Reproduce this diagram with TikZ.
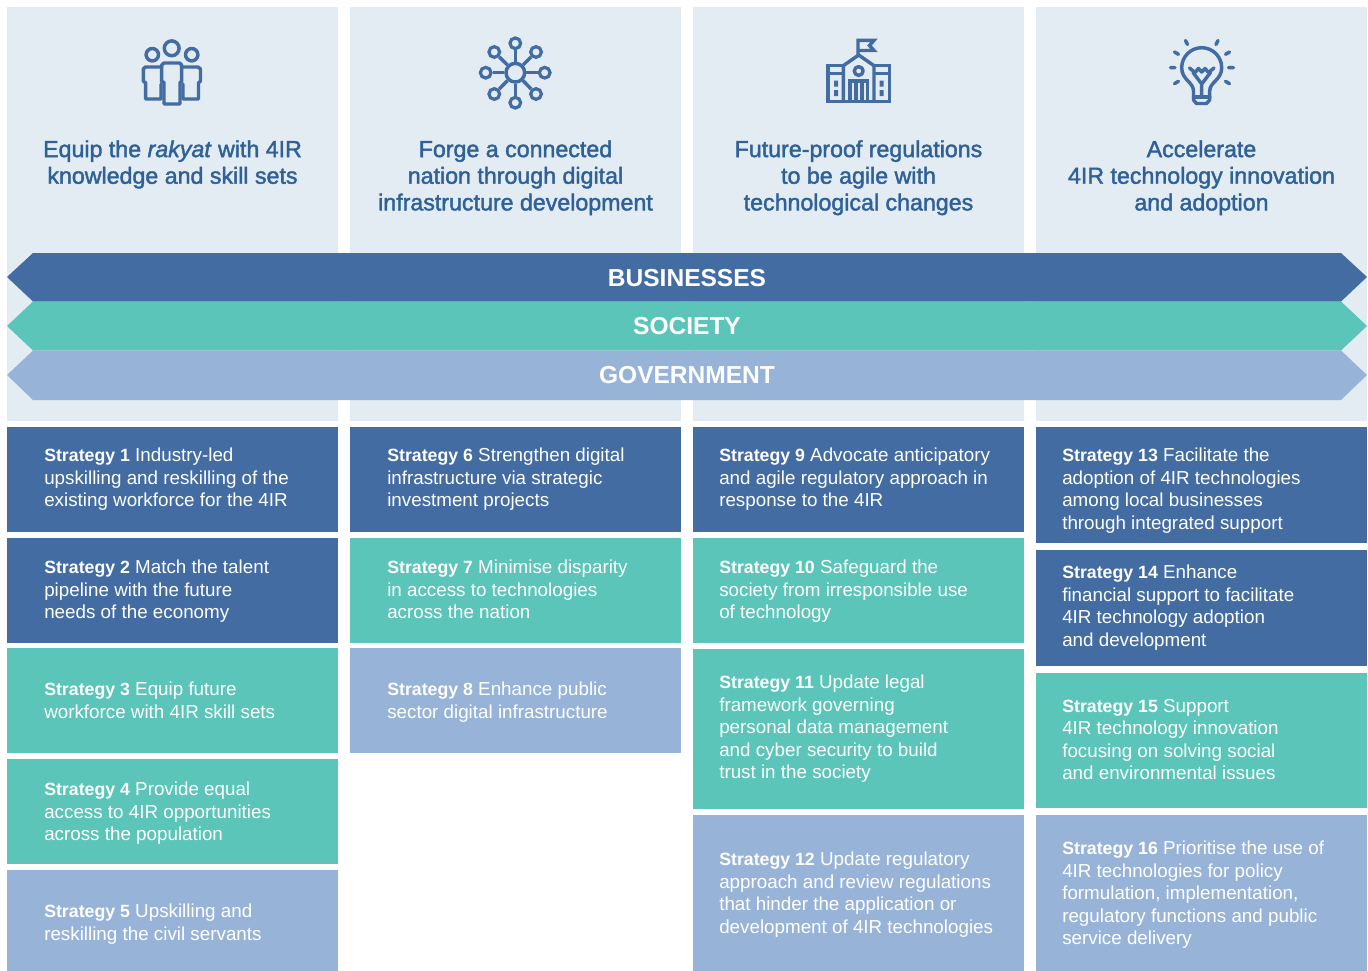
\documentclass[tikz,border=0pt]{standalone}
\usepackage{fontspec}
\setmainfont{Liberation Sans}
\newfontfamily\medfont[FakeBold=1.8]{Liberation Sans}
\definecolor{darkband}{HTML}{436CA3}
\definecolor{tealband}{HTML}{5BC5BA}
\definecolor{paleband}{HTML}{97B4D8}
\definecolor{panelbg}{HTML}{E3ECF3}
\definecolor{titleblue}{HTML}{2F6198}
\newcommand{\strat}[1]{{\bfseries\fontsize{13.3}{16.8}\selectfont Strategy #1}}
\tikzset{
  panel/.style={fill=panelbg, draw=none},
  paneltitle/.style={anchor=north, align=center, text=titleblue, inner sep=0pt, font=\medfont\fontsize{17.4}{20}\selectfont},
  bandlabel/.style={text=white, inner sep=0pt, font=\bfseries\fontsize{18.4}{22}\selectfont},
  stratbox/.style={anchor=north west, minimum width=248.25pt, inner sep=0pt},
  strattext/.style={anchor=north west, align=left, inner sep=0pt, text=white, font=\fontsize{14.1}{16.8}\selectfont},
  icon/.style={draw=darkband, line width=2.6pt, line join=round, line cap=round},
  sat/.style={circle, draw=darkband, line width=2.4pt, inner sep=0pt, minimum size=8pt},
}
\begin{document}
\begin{tikzpicture}[x=.75pt,y=-.75pt]
\useasboundingbox (0,0) rectangle (1368,971);
\fill[white] (0,0) rectangle (1368,971);
% top panels
\fill[panel] (7,7) rectangle (338,421);
\fill[panel] (350,7) rectangle (681,421);
\fill[panel] (693,7) rectangle (1024,421);
\fill[panel] (1036,7) rectangle (1367,421);
% people icon
\draw[icon] (171.7,48.3) circle (7.4);
\draw[icon] (152.3,54.7) circle (6.2);
\draw[icon] (191.7,54.7) circle (6.2);
\draw[icon] (161.7,82) -- (161.7,65) -- (164,63) -- (179.5,63) -- (181.7,65) -- (181.7,82)
  (164,82) -- (164,104) -- (180,104) -- (180,82);
\draw[icon] (161.7,67) -- (145.5,67) -- (143.3,69) -- (143.3,81) -- (145.7,83) -- (145.7,99) -- (161,99) (161,84) -- (161,99);
\draw[icon] (181.7,67) -- (198,67) -- (200.5,69) -- (200.5,81) -- (198.5,83) -- (198.5,99) -- (183,99) (183,84) -- (183,99);
% hub icon
\node[circle, draw=darkband, line width=2.6pt, inner sep=0pt, minimum size=14pt] (hub) at (515.3,72.7){};
\node[sat] (sat0) at (544.7,72.7){};
\node[sat] (sat1) at (536,52){};
\node[sat] (sat2) at (515.3,43.3){};
\node[sat] (sat3) at (494.3,52){};
\node[sat] (sat4) at (485.7,72.7){};
\node[sat] (sat5) at (494.3,94){};
\node[sat] (sat6) at (515.3,102.7){};
\node[sat] (sat7) at (536,94){};
\draw[icon, line cap=butt](hub) -- (sat0);
\draw[icon, line cap=butt](hub) -- (sat1);
\draw[icon, line cap=butt](hub) -- (sat2);
\draw[icon, line cap=butt](hub) -- (sat3);
\draw[icon, line cap=butt](hub) -- (sat4);
\draw[icon, line cap=butt](hub) -- (sat5);
\draw[icon, line cap=butt](hub) -- (sat6);
\draw[icon, line cap=butt](hub) -- (sat7);
% school icon
\draw[icon, line join=miter, line cap=butt] (843.3,65.7) -- (828,65.7) -- (828,101.5) -- (889.5,101.5) -- (889.5,65.7) -- (874,65.7);
\draw[icon, line join=miter, line cap=butt] (843.3,101.5) -- (843.3,65.7) -- (858.7,55) -- (874,65.7) -- (874,101.5);
\draw[icon, line cap=butt] (828,73.3) -- (843.3,73.3) (874,73.3) -- (889.5,73.3);
\draw[icon] (858.7,71) circle (4.4);
\draw[icon, line join=miter, line cap=butt] (850,101.5) -- (850,81) -- (867.5,81) -- (867.5,101.5) (856,81) -- (856,101.5) (861.8,81) -- (861.8,101.5);
\fill[darkband] (834,80.5) rectangle (838,86.5) (834,90) rectangle (838,96) (879.5,80.5) rectangle (883.5,86.5) (879.5,90) rectangle (883.5,96);
\draw[icon, line join=miter, line cap=butt] (858,55) -- (858,40.3) -- (874,40.3) -- (869.5,45.5) -- (874,50.5) -- (858,50.5);
% bulb icon
\draw[icon] (1193.5,91) .. controls (1193.5,82) and (1181.7,80) .. (1181.7,67.7) arc[start angle=180, end angle=360, radius=20] .. controls (1221.7,80) and (1209.7,82) .. (1209.7,91) -- (1209.7,100) -- (1206.5,103.5) -- (1196.5,103.5) -- (1193.5,100) -- cycle;
\draw[icon] (1193.5,97) -- (1209.7,97);
\draw[icon] (1189.5,68) -- (1195,72.5) -- (1198.5,68.5) -- (1201.7,72) -- (1205,68.5) -- (1208.5,72.5) -- (1214,68);
\draw[icon] (1193,72.5) -- (1201.7,84) -- (1210.5,72.5) (1201.7,84) -- (1201.7,97);
\draw[icon] (1185.5,40.5) -- (1187.5,44.5) (1218,40.5) -- (1216,44.5) (1174.5,52) -- (1178.5,54.3) (1229.5,52) -- (1225.5,54.3)
  (1170.5,67.7) -- (1175,67.7) (1228.5,67.7) -- (1233.5,67.7) (1174.5,83.7) -- (1178.5,81.3) (1229.5,83.7) -- (1225.5,81.3);
% panel titles
\node[paneltitle] (title1) at (172.5,140){Equip the \textit{rakyat} with 4IR\\knowledge and skill sets};
\node[paneltitle] (title2) at (515.5,140){Forge a connected\\nation through digital\\infrastructure development};
\node[paneltitle] (title3) at (858.5,140){Future-proof regulations\\to be agile with\\technological changes};
\node[paneltitle] (title4) at (1201.5,140){Accelerate\\4IR technology innovation\\and adoption};
% bands
\fill[darkband] (7,277) -- (33,253) -- (1341,253) -- (1367,277) -- (1341,301.5) -- (33,301.5) -- cycle;
\fill[tealband] (7,326) -- (33,301.5) -- (1341,301.5) -- (1367,326) -- (1341,350.5) -- (33,350.5) -- cycle;
\fill[paleband] (7,375) -- (33,350.5) -- (1341,350.5) -- (1367,375) -- (1341,400) -- (33,400) -- cycle;
\node[bandlabel] (business) at (687,278){BUSINESSES};
\node[bandlabel] (society) at (687,326){SOCIETY};
\node[bandlabel] (gov) at (687,375){GOVERNMENT};
% first column
\node[stratbox, fill=darkband, minimum height=78.75pt] (b1) at (7,427){};
\node[stratbox, fill=darkband, minimum height=78.75pt] (b2) at (7,538){};
\node[stratbox, fill=tealband, minimum height=78.75pt] (b3) at (7,648){};
\node[stratbox, fill=tealband, minimum height=78.75pt] (b4) at (7,759){};
\node[stratbox, fill=paleband, minimum height=75.75pt] (b5) at (7,870){};
\node[strattext] (s1) at (44,448){\strat{1} Industry-led\\upskilling and reskilling of the\\existing workforce for the 4IR};
\node[strattext] (s2) at (44,560){\strat{2} Match the talent\\pipeline with the future\\needs of the economy};
\node[strattext] (s3) at (44,682){\strat{3} Equip future\\workforce with 4IR skill sets};
\node[strattext] (s4) at (44,782){\strat{4} Provide equal\\access to 4IR opportunities\\across the population};
\node[strattext] (s5) at (44,904){\strat{5} Upskilling and\\reskilling the civil servants};
% second column
\node[stratbox, fill=darkband, minimum height=78.75pt] (b6) at (350,427){};
\node[stratbox, fill=tealband, minimum height=78.75pt] (b7) at (350,538){};
\node[stratbox, fill=paleband, minimum height=78.75pt] (b8) at (350,648){};
\node[strattext] (s6) at (387,448){\strat{6} Strengthen digital\\infrastructure via strategic\\investment projects};
\node[strattext] (s7) at (387,560){\strat{7} Minimise disparity\\in access to technologies\\across the nation};
\node[strattext] (s8) at (387,682){\strat{8} Enhance public\\sector digital infrastructure};
% third column
\node[stratbox, fill=darkband, minimum height=78.75pt] (b9) at (693,427){};
\node[stratbox, fill=tealband, minimum height=78.75pt] (b10) at (693,538){};
\node[stratbox, fill=tealband, minimum height=120pt] (b11) at (693,649){};
\node[stratbox, fill=paleband, minimum height=117pt] (b12) at (693,815){};
\node[strattext] (s9) at (719,448){\strat{9} Advocate anticipatory\\and agile regulatory approach in\\response to the 4IR};
\node[strattext] (s10) at (719,560){\strat{10} Safeguard the\\society from irresponsible use\\of technology};
\node[strattext] (s11) at (719,675){\strat{11} Update legal\\framework governing\\personal data management\\and cyber security to build\\trust in the society};
\node[strattext] (s12) at (719,852){\strat{12} Update regulatory\\approach and review regulations\\that hinder the application or\\development of 4IR technologies};
% fourth column
\node[stratbox, fill=darkband, minimum height=87pt] (b13) at (1036,427){};
\node[stratbox, fill=darkband, minimum height=87pt] (b14) at (1036,550){};
\node[stratbox, fill=tealband, minimum height=101.25pt] (b15) at (1036,673){};
\node[stratbox, fill=paleband, minimum height=117pt] (b16) at (1036,815){};
\node[strattext] (s13) at (1062,448){\strat{13} Facilitate the\\adoption of 4IR technologies\\among local businesses\\through integrated support};
\node[strattext] (s14) at (1062,565){\strat{14} Enhance\\financial support to facilitate\\4IR technology adoption\\and development};
\node[strattext] (s15) at (1062,699){\strat{15} Support\\4IR technology innovation\\focusing on solving social\\and environmental issues};
\node[strattext] (s16) at (1062,841){\strat{16} Prioritise the use of\\4IR technologies for policy\\formulation, implementation,\\regulatory functions and public\\service delivery};
\end{tikzpicture}
\end{document}
